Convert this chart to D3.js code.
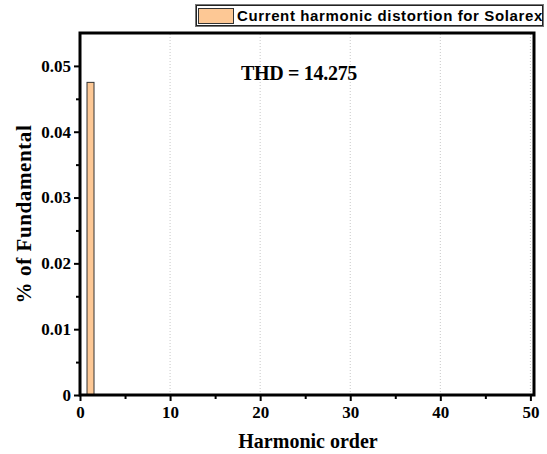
<!DOCTYPE html>
<html>
<head>
<meta charset="utf-8">
<script src="https://cdn.jsdelivr.net/npm/d3@7"></script>
<style>
  body { margin: 0; background: #fff; }
  text { font-family: "Liberation Serif", "Times New Roman", serif; font-weight: bold; fill: #000; }
</style>
</head>
<body>
<div id="chart"></div>
<script>
// data
const harmonics = [1];
const percentValues = [0.0475];
const xTicks = [0, 10, 20, 30, 40, 50];
const yTicks = [0, 0.01, 0.02, 0.03, 0.04, 0.05];
const legendLabel = "Current harmonic distortion for Solarex";
const thdLabel = "THD = 14.275";

const width = 547, height = 454;
const margin = { top: 33, right: 13, bottom: 59, left: 80 };

const svg = d3.select("#chart").append("svg")
  .attr("width", width)
  .attr("height", height);

// scales
const x = d3.scaleLinear().domain([0, 50.4]).range([margin.left, width - margin.right]);
const y = d3.scaleLinear().domain([0, 0.055]).range([height - margin.bottom, margin.top]);

// dotted vertical grid
svg.append("g")
  .selectAll("line")
  .data(xTicks.filter(d => d > 0))
  .enter().append("line")
    .attr("x1", d => x(d)).attr("x2", d => x(d))
    .attr("y1", y(0)).attr("y2", margin.top)
    .attr("stroke", "#c8c8c8")
    .attr("stroke-width", 1)
    .attr("stroke-dasharray", "1,2");

// bars
svg.append("g")
  .selectAll("rect")
  .data(harmonics)
  .enter().append("rect")
    .attr("x", d => x(d) - 2)
    .attr("y", (d, i) => y(percentValues[i]))
    .attr("width", 7)
    .attr("height", (d, i) => y(0) - y(percentValues[i]))
    .attr("fill", "#fdc895")
    .attr("stroke", "#333")
    .attr("stroke-width", 1);

// frame
svg.append("rect")
  .attr("x", x.range()[0]).attr("y", margin.top)
  .attr("width", x.range()[1] - x.range()[0])
  .attr("height", y(0) - margin.top)
  .attr("fill", "none")
  .attr("stroke", "#000")
  .attr("stroke-width", 3);

// x axis
const xAxis = svg.append("g")
  .attr("transform", `translate(0,${y(0)})`)
  .call(d3.axisBottom(x).tickValues(xTicks).tickFormat(d3.format("d")).tickSize(6).tickPadding(5));
xAxis.select(".domain").remove();
xAxis.selectAll(".tick line").attr("stroke-width", 2);
xAxis.selectAll("text").style("font-size", "17px");
svg.append("g")
  .attr("transform", `translate(0,${y(0)})`)
  .call(d3.axisBottom(x).tickValues([5, 15, 25, 35, 45]).tickFormat("").tickSize(4))
  .call(g => g.select(".domain").remove())
  .selectAll(".tick line").attr("stroke-width", 2);

// y axis
const yAxis = svg.append("g")
  .attr("transform", `translate(${x(0)},0)`)
  .call(d3.axisLeft(y).tickValues(yTicks).tickFormat(d => d === 0 ? "0" : d3.format(".2f")(d)).tickSize(6).tickPadding(3));
yAxis.select(".domain").remove();
yAxis.selectAll(".tick line").attr("stroke-width", 2);
yAxis.selectAll("text").style("font-size", "17px");
svg.append("g")
  .attr("transform", `translate(${x(0)},0)`)
  .call(d3.axisLeft(y).tickValues([0.005, 0.015, 0.025, 0.035, 0.045]).tickFormat("").tickSize(4))
  .call(g => g.select(".domain").remove())
  .selectAll(".tick line").attr("stroke-width", 2);

// axis titles
svg.append("text")
  .attr("x", 308)
  .attr("y", 448)
  .attr("text-anchor", "middle")
  .style("font-size", "20px")
  .text("Harmonic order");

svg.append("text")
  .attr("transform", "translate(31,214) rotate(-90)")
  .attr("text-anchor", "middle")
  .style("font-size", "21px")
  .style("letter-spacing", "0.6px")
  .text("% of Fundamental");

// THD annotation
svg.append("text")
  .attr("x", 299)
  .attr("y", 80)
  .attr("text-anchor", "middle")
  .style("font-size", "20px")
  .style("letter-spacing", "-0.3px")
  .text(thdLabel);

// legend
const legend = svg.append("g");
legend.append("rect")
  .attr("x", 195.5).attr("y", 4.5)
  .attr("width", 348).attr("height", 22)
  .attr("fill", "#fff")
  .attr("stroke", "#777")
  .attr("stroke-width", 1);
legend.append("rect")
  .attr("x", 196.5).attr("y", 5.5)
  .attr("width", 346).attr("height", 20)
  .attr("fill", "none")
  .attr("stroke", "#222")
  .attr("stroke-width", 1);
legend.append("rect")
  .attr("x", 198.5).attr("y", 8.5)
  .attr("width", 35).attr("height", 15)
  .attr("fill", "#fdc895")
  .attr("stroke", "#333")
  .attr("stroke-width", 1);
legend.append("text")
  .attr("x", 237)
  .attr("y", 21)
  .style("font-family", "'Liberation Sans', Arial, sans-serif")
  .style("font-size", "15px")
  .style("letter-spacing", "0.62px")
  .text(legendLabel);
</script>
</body>
</html>
